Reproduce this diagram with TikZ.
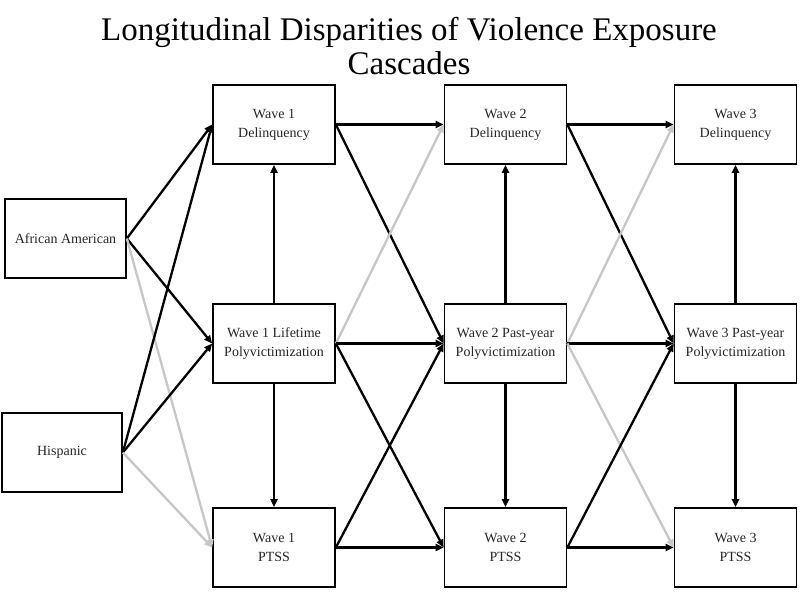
\documentclass[tikz,border=0pt]{standalone}
\usepackage{fontspec}
\setmainfont{Liberation Serif}
\usetikzlibrary{arrows.meta}
\begin{document}
\begin{tikzpicture}[x=1pt,y=-1pt,
  box/.style={draw=black,line width=1.7pt,rectangle,minimum width=122pt,minimum height=79pt,inner sep=2pt,align=center,font=\fontsize{14}{19}\selectfont,text=black!85},
  blk/.style={draw=black,line width=2.3pt,-{Triangle[length=8pt,width=7pt]}},
  gry/.style={draw=black!22,line width=2.3pt,-{Triangle[length=8pt,width=7pt]}}]
\useasboundingbox (0,0) rectangle (800,595);
\node[font=\fontsize{33}{34}\selectfont,align=center] (title) at (409,46) {Longitudinal Disparities of Violence Exposure\\Cascades};
\node[box,minimum width=121pt] (aa) at (65.5,238.5) {African American};
\node[box,minimum width=120pt] (hi) at (62,452.5) {Hispanic};
\node[box] (d1) at (274,124.5) {Wave 1\\Delinquency};
\node[box] (p1) at (274,343.5) {Wave 1 Lifetime\\Polyvictimization};
\node[box] (t1) at (274,547.5) {Wave 1\\PTSS};
\node[box] (d2) at (505.5,124.5) {Wave 2\\Delinquency};
\node[box] (p2) at (505.5,343.5) {Wave 2 Past-year\\Polyvictimization};
\node[box] (t2) at (505.5,547.5) {Wave 2\\PTSS};
\node[box] (d3) at (735.5,124.5) {Wave 3\\Delinquency};
\node[box] (p3) at (735.5,343.5) {Wave 3 Past-year\\Polyvictimization};
\node[box] (t3) at (735.5,547.5) {Wave 3\\PTSS};
% demographics
\draw[blk] (aa.east) -- (d1.west);
\draw[blk] (aa.east) -- (p1.west);
\draw[gry] (aa.east) -- (t1.west);
\draw[blk] (hi.east) -- (d1.west);
\draw[blk] (hi.east) -- (p1.west);
\draw[gry] (hi.east) -- (t1.west);
% within waves
\draw[blk] (p1.north) -- (d1.south);
\draw[blk] (p1.south) -- (t1.north);
\draw[blk] (p2.north) -- (d2.south);
\draw[blk] (p2.south) -- (t2.north);
\draw[blk] (p3.north) -- (d3.south);
\draw[blk] (p3.south) -- (t3.north);
% wave 1 -> wave 2
\draw[blk] (d1.east) -- (d2.west);
\draw[blk] (d1.east) -- (p2.west);
\draw[gry] (p1.east) -- (d2.west);
\draw[blk] (p1.east) -- (p2.west);
\draw[blk] (p1.east) -- (t2.west);
\draw[blk] (t1.east) -- (p2.west);
\draw[blk] (t1.east) -- (t2.west);
% wave 2 -> wave 3
\draw[blk] (d2.east) -- (d3.west);
\draw[blk] (d2.east) -- (p3.west);
\draw[gry] (p2.east) -- (d3.west);
\draw[blk] (p2.east) -- (p3.west);
\draw[gry] (p2.east) -- (t3.west);
\draw[blk] (t2.east) -- (p3.west);
\draw[blk] (t2.east) -- (t3.west);
\end{tikzpicture}
\end{document}
